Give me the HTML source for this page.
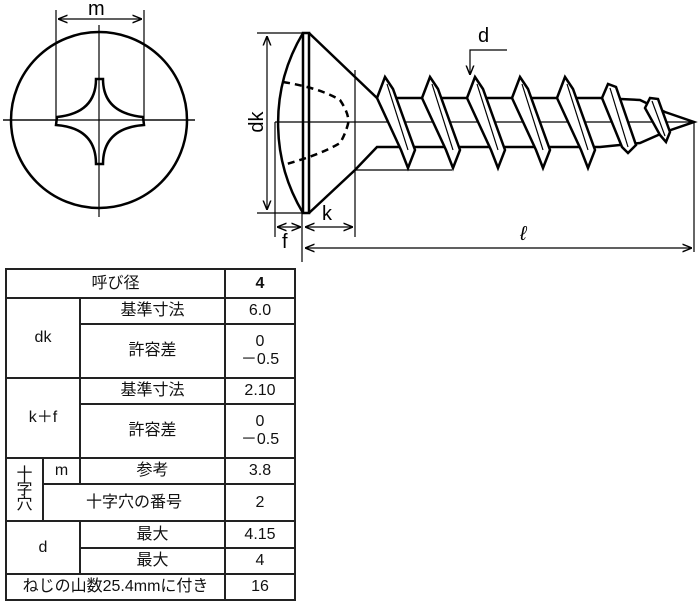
<!DOCTYPE html>
<html><head><meta charset="utf-8"><style>
body{margin:0;background:#fff;width:700px;height:606px;overflow:hidden;position:relative;font-family:"Liberation Sans","Noto Sans CJK JP",sans-serif}
svg{position:absolute;left:0;top:0}
table{position:absolute;left:5px;top:268px;border-collapse:collapse;font-size:16px;color:#111}
td{border:2px solid #222;text-align:center;padding:0;line-height:18px}
</style></head><body>
<svg width="700" height="606" viewBox="0 0 700 606">
<defs>
<marker id="a" viewBox="0 0 10 10" refX="10" refY="5" markerWidth="8" markerHeight="8" orient="auto-start-reverse"><path d="M0,1 L10,5 L0,9" fill="none" stroke="#000" stroke-width="1.5"/></marker>
</defs>
<g stroke="#000" fill="none">
<circle cx="99" cy="120" r="88" stroke-width="2.5"/>
<line x1="3" y1="120" x2="195" y2="120" stroke-width="1.2"/>
<line x1="99" y1="25" x2="99" y2="217" stroke-width="1.2"/>
<line x1="56" y1="10" x2="56" y2="124" stroke-width="1.2"/>
<line x1="144" y1="10" x2="144" y2="124" stroke-width="1.2"/>
<line x1="58" y1="19" x2="142" y2="19" stroke-width="1.2" marker-start="url(#a)" marker-end="url(#a)"/>
<path d="M96,79 L103,79 Q103,113 143,117 L144,125 Q103,128 103,164 L96,164 Q96,128 56,125 L57,117 Q96,113 96,79 Z" fill="#fff" stroke-width="2.5"/>
<line x1="3" y1="120" x2="195" y2="120" stroke-width="1.2"/>
<line x1="99" y1="79" x2="99" y2="164" stroke-width="1.2"/>
<path d="M303,33 A175,175 0 0 0 303,213" stroke-width="2.5"/>
<rect x="303" y="33" width="6" height="180" stroke-width="2.5" fill="#fff"/>
<path d="M309,33 L377,98 L600,98 L640,100 L665,112 L694,122 L665,132 L640,143 L600,147 L377,147 L355,170 L309,213" stroke-width="2.5"/>
<line x1="355" y1="170" x2="452" y2="170" stroke-width="1.2"/>
<path d="M283,82 Q320,88 340,100 Q350,115 348,124 Q345,135 340,143 Q320,155 283,165" stroke-width="2.5" stroke-dasharray="7,5"/>
<line x1="275" y1="122" x2="694" y2="122" stroke-width="1.2"/>
<g stroke-width="2.5" fill="#fff">
<path d="M377,98 L385,77 L393,89 L415,150 L408,168 L401,150 Z"/>
<path d="M422,98 L430,77 L438,89 L460,150 L453,168 L446,150 Z"/>
<path d="M467,98 L475,77 L483,89 L505,150 L498,168 L491,150 Z"/>
<path d="M512,98 L520,77 L528,89 L550,150 L543,168 L536,150 Z"/>
<path d="M557,98 L565,77 L573,89 L595,150 L588,168 L581,150 Z"/>
<path d="M602,98 L608,84 L616,87 L636,145 L628,153 L622,147 Z"/>
<path d="M645,108 L650,98 L658,99 L670,132 L666,142 L660,135 Z"/>
</g>
<g stroke-width="1.2">
<path d="M387,84 L408,150"/><path d="M432,84 L453,150"/><path d="M477,84 L498,150"/><path d="M522,84 L543,150"/><path d="M567,84 L588,150"/><path d="M610,88 L628,147"/><path d="M652,101 L665,136"/>
</g>
<g stroke-width="1.2">
<line x1="257" y1="33" x2="303" y2="33"/><line x1="257" y1="213" x2="303" y2="213"/>
<line x1="267" y1="36" x2="267" y2="210" marker-start="url(#a)" marker-end="url(#a)"/>
<line x1="275" y1="122" x2="275" y2="237"/><line x1="302" y1="213" x2="302" y2="262"/>
<line x1="355" y1="70" x2="355" y2="237"/>
<line x1="277" y1="227" x2="301" y2="227" marker-start="url(#a)" marker-end="url(#a)"/>
<line x1="305" y1="227" x2="353" y2="227" marker-start="url(#a)" marker-end="url(#a)"/>
<line x1="694" y1="122" x2="694" y2="252"/>
<line x1="305" y1="248" x2="692" y2="248" marker-start="url(#a)" marker-end="url(#a)"/>
<path d="M507,50 L470,50 L470,75" marker-end="url(#a)"/>
</g>
</g>
<g font-family="Liberation Sans,sans-serif" font-size="20" fill="#000">
<text x="88" y="15">m</text>
<text x="0" y="0" transform="translate(263,122) rotate(-90)" text-anchor="middle">dk</text>
<text x="282" y="248">f</text>
<text x="322" y="220">k</text>
<text x="478" y="42">d</text>
<text x="520" y="240" font-style="italic">ℓ</text>
</g>
</svg>
<table>
<colgroup><col style="width:37px"><col style="width:37px"><col style="width:145px"><col style="width:70px"></colgroup>
<tr style="height:29px"><td colspan="3">呼び径</td><td><b>4</b></td></tr>
<tr style="height:26px"><td colspan="2" rowspan="2">dk</td><td>基準寸法</td><td>6.0</td></tr>
<tr style="height:54px"><td>許容差</td><td>0<br>－0.5</td></tr>
<tr style="height:26px"><td colspan="2" rowspan="2">k＋f</td><td>基準寸法</td><td>2.10</td></tr>
<tr style="height:54px"><td>許容差</td><td>0<br>－0.5</td></tr>
<tr style="height:26px"><td rowspan="2" style="line-height:15px">十<br>字<br>穴</td><td>m</td><td>参考</td><td>3.8</td></tr>
<tr style="height:37px"><td colspan="2">十字穴の番号</td><td>2</td></tr>
<tr style="height:27px"><td colspan="2" rowspan="2">d</td><td>最大</td><td>4.15</td></tr>
<tr style="height:26px"><td>最大</td><td>4</td></tr>
<tr style="height:26px"><td colspan="3">ねじの山数25.4mmに付き</td><td>16</td></tr>
</table>
</body></html>
